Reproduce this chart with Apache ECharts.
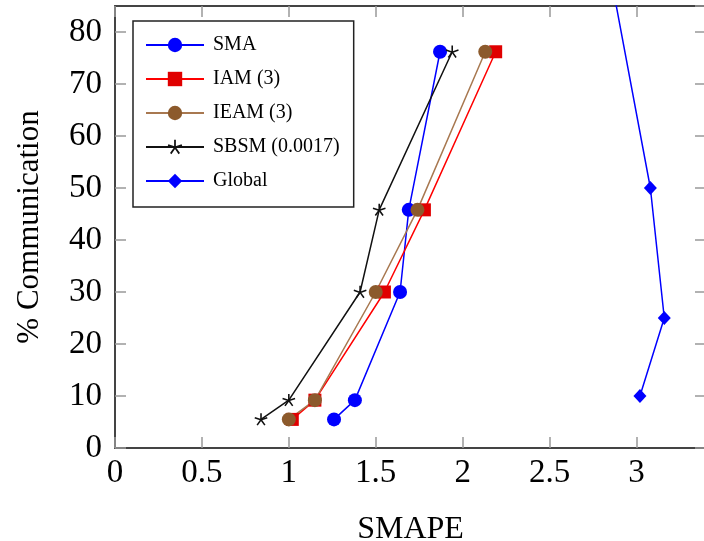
<!DOCTYPE html>
<html>
<head>
<meta charset="utf-8">
<script src="https://cdn.jsdelivr.net/npm/echarts@6/dist/echarts.min.js"></script>
<style>
	html, body { margin: 0; padding: 0; background: #fff; }
	#chart { width: 704px; height: 541px; }
</style>
</head>
<body>
<div id="chart"></div>
<script>
// 数据 - 通信百分比 (各方法共用)
const commY = [5.5, 9.2, 30, 45.8, 76.2];
const smaX = [1.26, 1.38, 1.64, 1.69, 1.87];
const iamX = [1.02, 1.15, 1.55, 1.78, 2.19];
const ieamX = [1.0, 1.15, 1.5, 1.74, 2.13];
const sbsmX = [0.84, 1.0, 1.41, 1.52, 1.94];
const globalX = [3.02, 3.16, 3.08, 2.8];
const globalY = [10, 25, 50, 100];
const seriesNames = ['SMA', 'IAM (3)', 'IEAM (3)', 'SBSM (0.0017)', 'Global'];

const FONT = 'Liberation Serif';

// 五角星号 (pgfplots star)
function starPath(){
	let d = '';
	const w = 0.12;
	for (let k = 0; k < 5; k++) {
		const a = Math.PI / 2 + k * 2 * Math.PI / 5;
		const dx = Math.cos(a), dy = -Math.sin(a);
		const px = -dy * w, py = dx * w;
		const p = [
			[px, py], [dx + px, dy + py], [dx - px, dy - py], [-px, -py]
		].map(q => (q[0] * 10).toFixed(3) + ' ' + (q[1] * 10).toFixed(3));
		d += 'M' + p[0] + ' L' + p[1] + ' L' + p[2] + ' L' + p[3] + ' Z ';
	}
	return 'path://' + d;
}

function zip(xs, ys){
	return xs.map((x, i) => [x, ys[i]]);
}

function lineSeries(name, data, color, symbol, size, markColor){
	return {
		name: name,
		type: 'line',
		data: data,
		symbol: symbol,
		symbolSize: size,
		symbolKeepAspect: true,
		lineStyle: { color: color, width: 1.5 },
		itemStyle: { color: markColor || color },
		emphasis: { disabled: true }
	};
}

const chart = echarts.init(document.getElementById('chart'));

const tickStyle = { inside: true, length: 11, lineStyle: { color: '#999', width: 1.5 } };
const frameLine = { show: true, onZero: false, lineStyle: { color: '#444', width: 2 } };

chart.setOption({
	animation: false,
	backgroundColor: '#fff',
	grid: { left: 115, right: -2, top: 6, bottom: 93, outerBoundsMode: 'none', containLabel: false },
	legend: {
		data: seriesNames,
		orient: 'vertical',
		left: 133,
		top: 21,
		itemWidth: 58,
		itemHeight: 18,
		itemGap: 14,
		padding: [14, 14, 16, 12],
		borderColor: '#222',
		borderWidth: 1.5,
		backgroundColor: '#fff',
		selectedMode: false,
		textStyle: { fontFamily: FONT, fontSize: 20, color: '#000', padding: [0, 0, 0, 4] }
	},
	xAxis: [{
		type: 'value',
		min: 0, max: 3.4, interval: 0.5,
		name: 'SMAPE',
		nameLocation: 'middle',
		nameGap: 66,
		nameTextStyle: { fontFamily: FONT, fontSize: 32, color: '#000' },
		axisLine: frameLine,
		axisTick: tickStyle,
		axisLabel: {
			fontFamily: FONT, fontSize: 33, color: '#000', margin: 9,
			showMaxLabel: false,
			formatter: v => String(v)
		},
		splitLine: { show: false }
	}, {
		type: 'value',
		position: 'top',
		min: 0, max: 3.4, interval: 0.5,
		axisLine: frameLine,
		axisTick: tickStyle,
		axisLabel: { show: false },
		splitLine: { show: false }
	}],
	yAxis: [{
		type: 'value',
		min: 0, max: 85, interval: 10,
		name: '% Communication',
		nameLocation: 'middle',
		nameGap: 70,
		nameTextStyle: { fontFamily: FONT, fontSize: 31, color: '#000' },
		axisLine: frameLine,
		axisTick: tickStyle,
		axisLabel: { fontFamily: FONT, fontSize: 33, color: '#000', margin: 13, showMaxLabel: false },
		splitLine: { show: false }
	}, {
		type: 'value',
		position: 'right',
		min: 0, max: 85, interval: 10,
		axisLine: frameLine,
		axisTick: tickStyle,
		axisLabel: { show: false },
		splitLine: { show: false }
	}],
	series: [
		lineSeries(seriesNames[0], zip(smaX, commY), '#0000ff', 'circle', 14),
		lineSeries(seriesNames[1], zip(iamX, commY), '#ff0000', 'rect', 13, '#e00000'),
		lineSeries(seriesNames[2], zip(ieamX, commY), '#a87850', 'circle', 14, '#8c5a2c'),
		lineSeries(seriesNames[3], zip(sbsmX, commY), '#111', starPath(), 13),
		lineSeries(seriesNames[4], zip(globalX, globalY), '#0000ff', 'diamond', [13, 14])
	]
});
</script>
</body>
</html>
